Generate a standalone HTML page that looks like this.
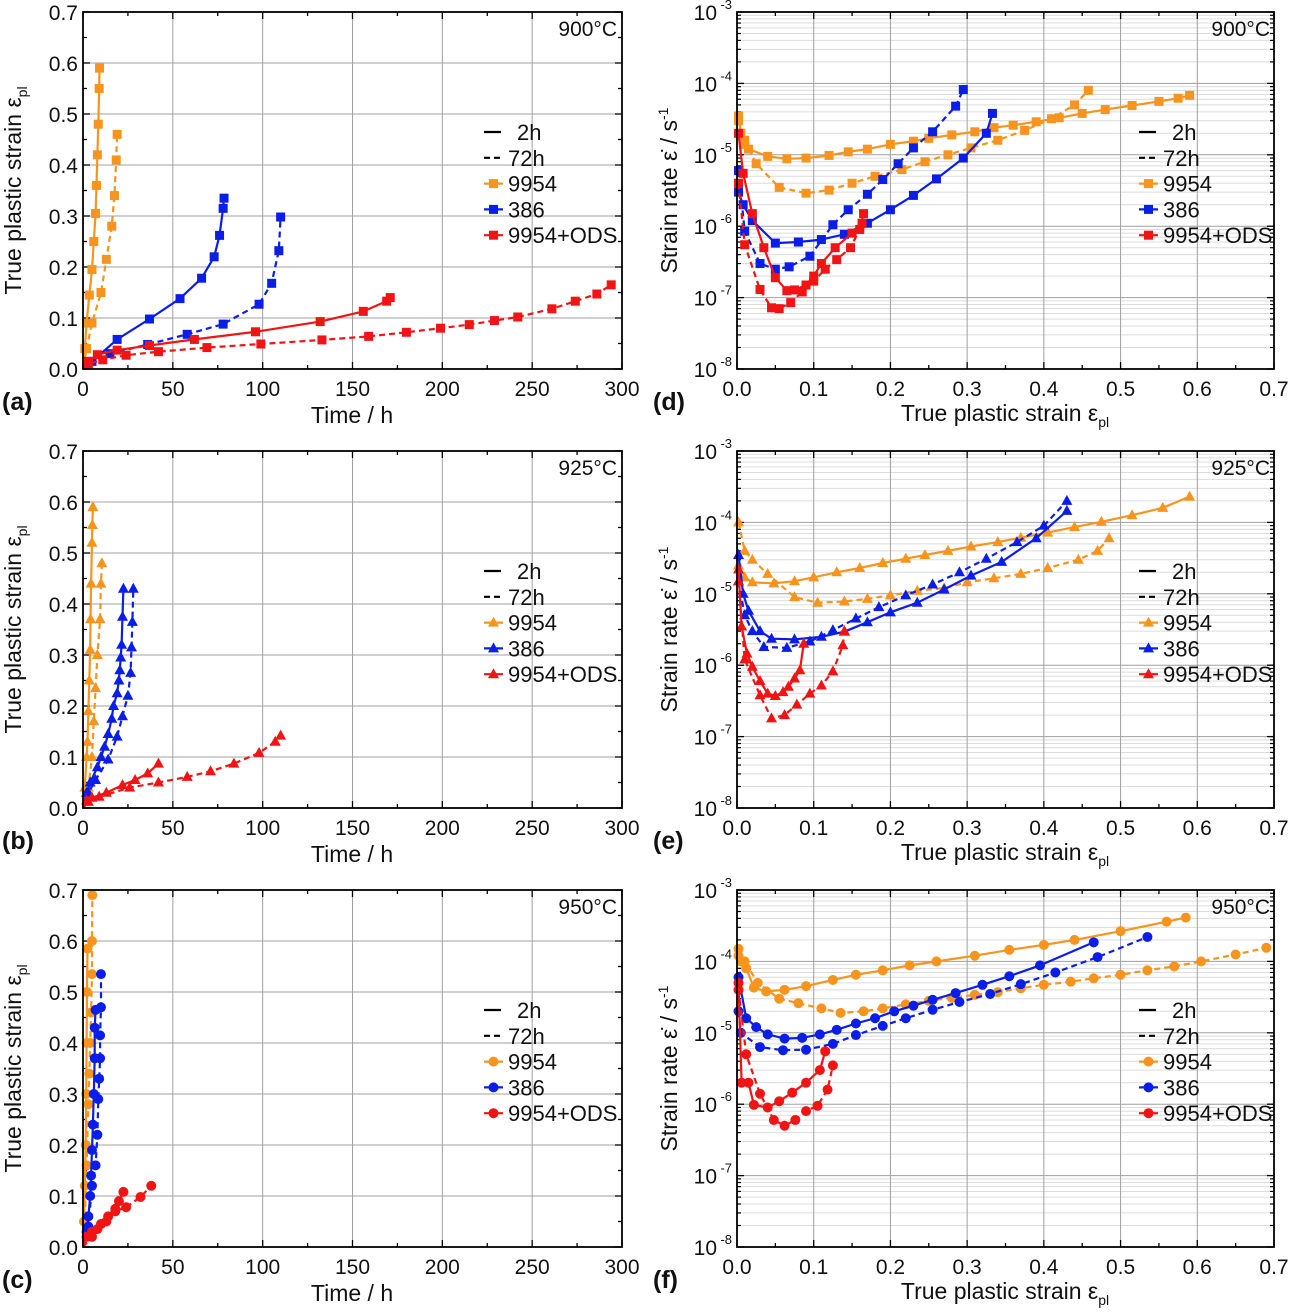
<!DOCTYPE html>
<html><head><meta charset="utf-8"><style>
html,body{margin:0;padding:0;background:#fff;}
svg text{font-family:"Liberation Sans",Arial,sans-serif;fill:#111;}
</style></head><body>
<svg id="fig" xmlns="http://www.w3.org/2000/svg" width="1289" height="1310" viewBox="0 0 1289 1310"></svg>
<script>
// ---- data: left panels (time h, true plastic strain) ----
const a_9954_2h_t=[0,1,2,3.5,5,6,7,7.5,8,8.5,9,9.2];
const a_9954_2h_e=[0,0.04,0.09,0.145,0.195,0.25,0.305,0.36,0.42,0.48,0.55,0.59];
const a_9954_72h_t=[0,2,5,10,13,16,17.5,18.5,19];
const a_9954_72h_e=[0,0.04,0.09,0.15,0.215,0.28,0.34,0.41,0.46];
const a_386_2h_t=[0,5,19,37,54,66,73,76,78,78.5];
const a_386_2h_e=[0,0.015,0.058,0.098,0.138,0.178,0.22,0.262,0.315,0.335];
const a_386_72h_t=[0,15,36,58,78,98,105,109,110];
const a_386_72h_e=[0,0.03,0.048,0.068,0.088,0.127,0.168,0.232,0.298];
const a_ods_2h_t=[0,3,8,19,37,62,96,132,156,169,171];
const a_ods_2h_e=[0,0.015,0.028,0.037,0.046,0.058,0.073,0.093,0.113,0.133,0.14];
const a_ods_72h_t=[0,3,11,24,42,69,99,133,159,180,199,215,229,242,261,274,286,294];
const a_ods_72h_e=[0,0.01,0.018,0.027,0.034,0.042,0.049,0.057,0.064,0.072,0.08,0.087,0.095,0.102,0.118,0.133,0.147,0.165];

const b_9954_2h_t=[0,1,2,2.5,3,3.5,4,4.2,4.5,5,5.2,5.5];
const b_9954_2h_e=[0,0.04,0.1,0.13,0.19,0.25,0.31,0.37,0.44,0.52,0.555,0.59];
const b_9954_72h_t=[0,3,5,6,7,8,9.5,10,10.5];
const b_9954_72h_e=[0,0.04,0.1,0.17,0.235,0.3,0.37,0.44,0.48];
const b_386_2h_t=[0,2,4,8,10,12,14,16,17,19,20,20.5,21,21.5,22,22.5];
const b_386_2h_e=[0,0.03,0.05,0.08,0.1,0.12,0.145,0.175,0.2,0.225,0.25,0.27,0.295,0.32,0.375,0.43];
const b_386_72h_t=[0,3,7,14,19,22,25,26.5,27,27.5,28];
const b_386_72h_e=[0,0.03,0.055,0.095,0.14,0.18,0.22,0.265,0.315,0.365,0.43];
const b_ods_2h_t=[0,2,5,13,22,29,36,42];
const b_ods_2h_e=[0,0.015,0.02,0.03,0.045,0.055,0.068,0.087];
const b_ods_72h_t=[0,3,9,26,42,58,71,84,98,107,110];
const b_ods_72h_e=[0,0.012,0.022,0.04,0.05,0.061,0.072,0.087,0.108,0.13,0.142];

const c_9954_2h_t=[0,0.5,1,1.5,1.8,2,2.2,2.5];
const c_9954_2h_e=[0,0.05,0.12,0.2,0.3,0.4,0.5,0.585];
const c_9954_72h_t=[0,1,2,3,3.5,4,4.5,5,5,5.2];
const c_9954_72h_e=[0,0.05,0.16,0.28,0.34,0.4,0.46,0.535,0.6,0.69];
const c_386_2h_t=[0,2,3,4,4.5,5,5.5,6,6.5,6.5,7];
const c_386_2h_e=[0,0.03,0.06,0.1,0.14,0.19,0.24,0.3,0.37,0.43,0.465];
const c_386_72h_t=[0,3,5,7,8,8.5,9,9.5,9.5,10,10];
const c_386_72h_e=[0,0.04,0.12,0.16,0.22,0.29,0.33,0.37,0.415,0.47,0.535];
const c_ods_2h_t=[0,2,5,10,14,18,20,22.5];
const c_ods_2h_e=[0,0.02,0.03,0.045,0.06,0.075,0.09,0.108];
const c_ods_72h_t=[0,5,8,13,18,24,32,38];
const c_ods_72h_e=[0,0.02,0.035,0.05,0.07,0.078,0.098,0.12];

// ---- data: right panels (strain, strain rate 1/s) ----
const d_9954_2h_x=[0.002,0.005,0.01,0.015,0.04,0.065,0.09,0.12,0.145,0.17,0.2,0.23,0.25,0.28,0.31,0.335,0.36,0.39,0.42,0.45,0.48,0.515,0.55,0.575,0.59];
const d_9954_2h_r=[3.5e-5,2e-5,1.4e-5,1.2e-5,9.5e-6,8.8e-6,9e-6,9.8e-6,1.1e-5,1.2e-5,1.4e-5,1.55e-5,1.7e-5,1.9e-5,2.1e-5,2.4e-5,2.6e-5,2.9e-5,3.3e-5,3.8e-5,4.3e-5,4.9e-5,5.6e-5,6.2e-5,6.8e-5];
const d_9954_72h_x=[0.002,0.01,0.025,0.055,0.09,0.12,0.15,0.18,0.215,0.245,0.275,0.305,0.34,0.375,0.41,0.44,0.458];
const d_9954_72h_r=[3e-5,1.6e-5,7.5e-6,3.5e-6,2.9e-6,3.2e-6,4e-6,5e-6,6.2e-6,8e-6,1e-5,1.25e-5,1.6e-5,2.2e-5,3.2e-5,5e-5,8e-5];
const d_386_2h_x=[0.002,0.008,0.02,0.05,0.08,0.11,0.14,0.17,0.2,0.23,0.26,0.295,0.325,0.333];
const d_386_2h_r=[3e-6,2e-6,1.2e-6,5.8e-7,6e-7,6.5e-7,7.7e-7,1.1e-6,1.7e-6,2.7e-6,4.6e-6,9e-6,2e-5,3.8e-5];
const d_386_72h_x=[0.002,0.01,0.03,0.05,0.068,0.095,0.125,0.145,0.17,0.19,0.21,0.23,0.255,0.285,0.295];
const d_386_72h_r=[6e-6,8.5e-7,3e-7,2.5e-7,2.7e-7,3.8e-7,1.05e-6,1.7e-6,2.8e-6,4.5e-6,7.5e-6,1.25e-5,2.1e-5,4.8e-5,8.2e-5];
const d_ods_2h_x=[0.002,0.008,0.02,0.035,0.05,0.065,0.075,0.09,0.1,0.11,0.128,0.15,0.163];
const d_ods_2h_r=[2e-5,5.5e-6,1.5e-6,5e-7,1.9e-7,1.25e-7,1.28e-7,1.5e-7,2e-7,3e-7,5e-7,8e-7,1.1e-6];
const d_ods_72h_x=[0.002,0.01,0.03,0.045,0.055,0.07,0.085,0.1,0.115,0.13,0.148,0.16,0.165];
const d_ods_72h_r=[4e-6,5.5e-7,1.3e-7,7.2e-8,7e-8,8.5e-8,1.2e-7,1.7e-7,2.5e-7,3.4e-7,5e-7,9e-7,1.5e-6];

const e_9954_2h_x=[0.002,0.01,0.02,0.048,0.075,0.1,0.13,0.16,0.19,0.22,0.245,0.275,0.305,0.34,0.37,0.405,0.44,0.475,0.515,0.555,0.59];
const e_9954_2h_r=[2.5e-5,1.7e-5,1.45e-5,1.4e-5,1.5e-5,1.7e-5,2e-5,2.3e-5,2.7e-5,3.1e-5,3.5e-5,4e-5,4.6e-5,5.3e-5,6.1e-5,7.2e-5,8.6e-5,1.02e-4,1.26e-4,1.6e-4,2.3e-4];
const e_9954_72h_x=[0.002,0.01,0.02,0.04,0.075,0.105,0.14,0.17,0.2,0.235,0.27,0.3,0.335,0.37,0.405,0.445,0.47,0.485];
const e_9954_72h_r=[1e-4,4e-5,3e-5,1.9e-5,9e-6,7.5e-6,7.8e-6,8.5e-6,9.5e-6,1.1e-5,1.2e-5,1.45e-5,1.65e-5,1.9e-5,2.3e-5,3e-5,4e-5,6e-5];
const e_386_2h_x=[0.002,0.008,0.015,0.03,0.045,0.075,0.11,0.14,0.17,0.2,0.235,0.27,0.305,0.345,0.39,0.43];
const e_386_2h_r=[3.5e-5,1e-5,5.8e-6,3e-6,2.35e-6,2.3e-6,2.5e-6,2.95e-6,4e-6,5.5e-6,7.5e-6,1.15e-5,1.8e-5,2.8e-5,6e-5,1.45e-4];
const e_386_72h_x=[0.002,0.01,0.02,0.035,0.065,0.095,0.125,0.155,0.185,0.22,0.255,0.29,0.325,0.365,0.4,0.43];
const e_386_72h_r=[1.5e-5,5e-6,3e-6,1.8e-6,1.75e-6,2.15e-6,3.1e-6,4.5e-6,6.5e-6,9.5e-6,1.35e-5,2e-5,3.1e-5,5.3e-5,9e-5,2e-4];
const e_ods_2h_x=[0.002,0.006,0.013,0.02,0.03,0.04,0.05,0.06,0.067,0.075,0.082,0.087];
const e_ods_2h_r=[2.2e-5,3.5e-6,1.45e-6,9.5e-7,6e-7,4e-7,3.7e-7,4.2e-7,5e-7,6.5e-7,8.5e-7,2e-6];
const e_ods_72h_x=[0.002,0.01,0.03,0.045,0.062,0.078,0.095,0.11,0.125,0.138,0.14];
const e_ods_72h_r=[1.5e-5,1.2e-6,3.8e-7,1.8e-7,2e-7,2.8e-7,4e-7,5.2e-7,8.2e-7,1.9e-6,3e-6];

const f_9954_2h_x=[0.002,0.005,0.012,0.022,0.038,0.062,0.09,0.125,0.155,0.19,0.225,0.26,0.31,0.355,0.4,0.44,0.5,0.56,0.585];
const f_9954_2h_r=[1.5e-4,1e-4,8e-5,4.3e-5,3.8e-5,4e-5,4.5e-5,5.5e-5,6.5e-5,7.5e-5,8.8e-5,1e-4,1.2e-4,1.45e-4,1.7e-4,2e-4,2.65e-4,3.6e-4,4.1e-4];
const f_9954_72h_x=[0.002,0.01,0.027,0.055,0.08,0.11,0.135,0.165,0.19,0.22,0.25,0.28,0.31,0.34,0.37,0.4,0.435,0.465,0.5,0.535,0.57,0.605,0.65,0.69];
const f_9954_72h_r=[1.2e-4,1e-4,5e-5,3e-5,2.6e-5,2.2e-5,1.9e-5,2e-5,2.2e-5,2.5e-5,2.8e-5,3.1e-5,3.4e-5,3.7e-5,4.2e-5,4.7e-5,5.2e-5,5.8e-5,6.5e-5,7.5e-5,8.5e-5,1e-4,1.25e-4,1.55e-4];
const f_386_2h_x=[0.002,0.012,0.025,0.04,0.062,0.085,0.108,0.13,0.155,0.18,0.205,0.23,0.255,0.285,0.32,0.355,0.395,0.465];
const f_386_2h_r=[6e-5,1.6e-5,1.2e-5,9.5e-6,8.3e-6,8.5e-6,9.5e-6,1.1e-5,1.35e-5,1.6e-5,2e-5,2.4e-5,2.9e-5,3.6e-5,4.7e-5,6.2e-5,8.8e-5,1.85e-4];
const f_386_72h_x=[0.002,0.005,0.03,0.06,0.09,0.125,0.155,0.19,0.22,0.255,0.29,0.33,0.37,0.415,0.47,0.535];
const f_386_72h_r=[2e-5,1e-5,6.3e-6,5.7e-6,5.8e-6,7e-6,9.3e-6,1.25e-5,1.6e-5,2.1e-5,2.7e-5,3.5e-5,4.8e-5,7e-5,1.15e-4,2.2e-4];
const f_ods_2h_x=[0.002,0.006,0.015,0.022,0.04,0.055,0.072,0.09,0.108,0.115];
const f_ods_2h_r=[5e-5,2e-6,2e-6,9.8e-7,9e-7,1.1e-6,1.45e-6,2e-6,3e-6,5.5e-6];
const f_ods_72h_x=[0.002,0.012,0.03,0.048,0.062,0.076,0.09,0.105,0.118,0.125];
const f_ods_72h_r=[4e-5,5e-6,1.4e-6,6e-7,5e-7,6e-7,8e-7,9.5e-7,1.6e-6,3.5e-6];

const leftTicks=["0.0","0.1","0.2","0.3","0.4","0.5","0.6","0.7"];
const timeTicks=["0","50","100","150","200","250","300"];
const strainTicks=["0.0","0.1","0.2","0.3","0.4","0.5","0.6","0.7"];
const logExps=[-3,-4,-5,-6,-7,-8];
const temps=["900°C","925°C","950°C"];

const NS="http://www.w3.org/2000/svg";
const svg=document.getElementById('fig');
const COL={o:'#f7941d',b:'#0a1ee8',r:'#f01414'};
function mk(tag,attrs,parent){const e=document.createElementNS(NS,tag);for(const k in attrs)e.setAttribute(k,attrs[k]);(parent||svg).appendChild(e);return e;}
function marker(g,shape,x,y,c){
  let m;
  if(shape==='s'){m=mk('rect',{x:x-4.5,y:y-4.5,width:9,height:9,fill:c},g);}
  else if(shape==='t'){m=mk('polygon',{points:`${x},${y-6} ${x+5.5},${y+4} ${x-5.5},${y+4}`,fill:c},g);}
  else{m=mk('circle',{cx:x,cy:y,r:5,fill:c},g);}
  
  
}
function series(g,xs,ys,fx,fy,c,dash,shape,name){
  const sg=mk('g',{},g);
  
  
  const pts=xs.map((v,i)=>fx(v).toFixed(1)+','+fy(ys[i]).toFixed(1)).join(' ');
  const attrs={points:pts,fill:'none',stroke:c,'stroke-width':2.2,'stroke-linejoin':'round'};
  if(dash)attrs['stroke-dasharray']='6,4';
  mk('polyline',attrs,sg);
  xs.forEach((v,i)=>{if(i>0||ys[i]>0)marker(sg,shape,fx(v),fy(ys[i]),c);});
}
function legend(g,lx,ty,shape){
  const rows=[['2h',null,false],['72h',null,true],['9954',COL.o],['386',COL.b],['9954+ODS',COL.r]];
  rows.forEach((r,i)=>{
    const y=ty+i*25.8;
    const eg=mk('g',{},g);
    
    
    if(i<2){
      const at={x1:lx,x2:lx+17,y1:y,y2:y,stroke:'#000','stroke-width':2.2};
      if(r[2])at['stroke-dasharray']='6,4';
      mk('line',at,eg);
      mk('text',{x:lx+(i===0?33:24),y:y+8,'font-size':22},eg).textContent=r[0];
    }else{
      mk('line',{x1:lx,x2:lx+19,y1:y,y2:y,stroke:r[1],'stroke-width':2.2},eg);
      marker(eg,shape,lx+9.5,y,r[1]);
      mk('text',{x:lx+24,y:y+8,'font-size':22},eg).textContent=r[0];
    }
  });
}
function leftPanel(idx,letter,shape,data){
  const off=idx*439, X0=83,X1=622,Y0=369+off,Y1=12+off;
  const fx=t=>X0+t/300*(X1-X0), fy=v=>Y0-v/0.7*(Y0-Y1);
  const g=mk('g',{});
  
  
  for(let i=1;i<6;i++)mk('line',{x1:fx(i*50),x2:fx(i*50),y1:Y1,y2:Y0,stroke:'#a0a0a0','stroke-width':1},g);
  for(let i=1;i<7;i++)mk('line',{x1:X0,x2:X1,y1:fy(i*0.1),y2:fy(i*0.1),stroke:'#a0a0a0','stroke-width':1},g);
  for(let i=0;i<=12;i++){const x=fx(i*25),L=i%2?4:7;mk('line',{x1:x,x2:x,y1:Y0,y2:Y0-L,stroke:'#000','stroke-width':1.3},g);mk('line',{x1:x,x2:x,y1:Y1,y2:Y1+L,stroke:'#000','stroke-width':1.3},g);}
  for(let i=0;i<=14;i++){const y=fy(i*0.05),L=i%2?4:7;mk('line',{x1:X0,x2:X0+L,y1:y,y2:y,stroke:'#000','stroke-width':1.3},g);mk('line',{x1:X1,x2:X1-L,y1:y,y2:y,stroke:'#000','stroke-width':1.3},g);}
  leftTicks.forEach((s,i)=>{const t=mk('text',{x:X0-5,y:fy(i*0.1)+8,'font-size':21,'text-anchor':'end'},g);t.textContent=s;});
  timeTicks.forEach((s,i)=>{const t=mk('text',{x:fx(i*50),y:Y0+27,'font-size':21,'text-anchor':'middle'},g);t.textContent=s;});
  const xt=mk('text',{x:352,y:Y0+54,'font-size':23,'text-anchor':'middle'},g);xt.textContent='Time / h';
  
  const yt=mk('text',{x:0,y:0,'font-size':23,'text-anchor':'middle',transform:`translate(21,${(Y0+Y1)/2}) rotate(-90)`},g);
  yt.innerHTML='True plastic strain ε<tspan font-size="14" dy="6">pl</tspan>';
  
  const pl=mk('text',{x:2,y:Y0+41,'font-size':25,'font-weight':'bold'},g);pl.textContent='('+letter+')';
  
  const tp=mk('text',{x:617,y:Y1+24,'font-size':21,'text-anchor':'end'},g);tp.textContent=temps[idx];
  
  data.forEach(d=>series(g,d[0],d[1],fx,fy,d[2],d[3],shape,d[4]));
  mk('rect',{x:X0,y:Y1,width:X1-X0,height:Y0-Y1,fill:'none',stroke:'#000','stroke-width':1.8},g);
  legend(g,484,Y1+120,shape);
}
function rightPanel(idx,letter,shape,data){
  const off=idx*439, X0=737,X1=1274,Y0=369+off,Y1=12+off;
  const fx=v=>X0+v/0.7*(X1-X0), fy=r=>Y0-(Math.log10(r)+8)/5*(Y0-Y1);
  const g=mk('g',{});
  
  
  for(let e=-8;e<-3;e++)for(let m=2;m<10;m++){const y=fy(m*Math.pow(10,e));mk('line',{x1:X0,x2:X1,y1:y,y2:y,stroke:'#dcdcdc','stroke-width':1},g);mk('line',{x1:X0,x2:X0+4,y1:y,y2:y,stroke:'#000','stroke-width':1.2},g);mk('line',{x1:X1,x2:X1-4,y1:y,y2:y,stroke:'#000','stroke-width':1.2},g);}
  for(let i=1;i<7;i++)mk('line',{x1:fx(i*0.1),x2:fx(i*0.1),y1:Y1,y2:Y0,stroke:'#a0a0a0','stroke-width':1},g);
  for(let e=-7;e<-3;e++)mk('line',{x1:X0,x2:X1,y1:fy(Math.pow(10,e)),y2:fy(Math.pow(10,e)),stroke:'#a0a0a0','stroke-width':1},g);
  for(let i=0;i<=14;i++){const x=fx(i*0.05),L=i%2?4:7;mk('line',{x1:x,x2:x,y1:Y0,y2:Y0-L,stroke:'#000','stroke-width':1.3},g);mk('line',{x1:x,x2:x,y1:Y1,y2:Y1+L,stroke:'#000','stroke-width':1.3},g);}
  logExps.forEach(e=>{const y=fy(Math.pow(10,e));mk('line',{x1:X0,x2:X0+7,y1:y,y2:y,stroke:'#000','stroke-width':1.3},g);mk('line',{x1:X1,x2:X1-7,y1:y,y2:y,stroke:'#000','stroke-width':1.3},g);
    const t=mk('text',{x:X0-20,y:y+8,'font-size':21,'text-anchor':'end'},g);t.innerHTML='10';
    const s=mk('text',{x:X0-5,y:y-3,'font-size':13,'text-anchor':'end'},g);s.textContent=String(e);
    
    });
  strainTicks.forEach((s,i)=>{const t=mk('text',{x:fx(i*0.1),y:Y0+27,'font-size':21,'text-anchor':'middle'},g);t.textContent=s;});
  const xt=mk('text',{x:1005,y:Y0+52,'font-size':23,'text-anchor':'middle'},g);
  xt.innerHTML='True plastic strain ε<tspan font-size="14" dy="6">pl</tspan>';
  
  const yt=mk('text',{x:0,y:0,'font-size':23,'text-anchor':'middle',transform:`translate(677,${(Y0+Y1)/2}) rotate(-90)`},g);
  yt.innerHTML='Strain rate ε̇ / s<tspan font-size="14" dy="-9">-1</tspan>';
  
  const pl=mk('text',{x:653,y:Y0+41,'font-size':25,'font-weight':'bold'},g);pl.textContent='('+letter+')';
  
  const tp=mk('text',{x:1270,y:Y1+24,'font-size':21,'text-anchor':'end'},g);tp.textContent=temps[idx];
  
  data.forEach(d=>series(g,d[0],d[1],fx,fy,d[2],d[3],shape,d[4]));
  mk('rect',{x:X0,y:Y1,width:X1-X0,height:Y0-Y1,fill:'none',stroke:'#000','stroke-width':1.8},g);
  legend(g,1139,Y1+120,shape);
}
leftPanel(0,'a','s',[[a_9954_2h_t,a_9954_2h_e,COL.o,false,'series-9954-2h'],[a_9954_72h_t,a_9954_72h_e,COL.o,true,'series-9954-72h'],[a_386_2h_t,a_386_2h_e,COL.b,false,'series-386-2h'],[a_386_72h_t,a_386_72h_e,COL.b,true,'series-386-72h'],[a_ods_2h_t,a_ods_2h_e,COL.r,false,'series-ods-2h'],[a_ods_72h_t,a_ods_72h_e,COL.r,true,'series-ods-72h']]);
leftPanel(1,'b','t',[[b_9954_2h_t,b_9954_2h_e,COL.o,false,'series-9954-2h'],[b_9954_72h_t,b_9954_72h_e,COL.o,true,'series-9954-72h'],[b_386_2h_t,b_386_2h_e,COL.b,false,'series-386-2h'],[b_386_72h_t,b_386_72h_e,COL.b,true,'series-386-72h'],[b_ods_2h_t,b_ods_2h_e,COL.r,false,'series-ods-2h'],[b_ods_72h_t,b_ods_72h_e,COL.r,true,'series-ods-72h']]);
leftPanel(2,'c','c',[[c_9954_2h_t,c_9954_2h_e,COL.o,false,'series-9954-2h'],[c_9954_72h_t,c_9954_72h_e,COL.o,true,'series-9954-72h'],[c_386_2h_t,c_386_2h_e,COL.b,false,'series-386-2h'],[c_386_72h_t,c_386_72h_e,COL.b,true,'series-386-72h'],[c_ods_2h_t,c_ods_2h_e,COL.r,false,'series-ods-2h'],[c_ods_72h_t,c_ods_72h_e,COL.r,true,'series-ods-72h']]);
rightPanel(0,'d','s',[[d_9954_2h_x,d_9954_2h_r,COL.o,false,'series-9954-2h'],[d_9954_72h_x,d_9954_72h_r,COL.o,true,'series-9954-72h'],[d_386_2h_x,d_386_2h_r,COL.b,false,'series-386-2h'],[d_386_72h_x,d_386_72h_r,COL.b,true,'series-386-72h'],[d_ods_2h_x,d_ods_2h_r,COL.r,false,'series-ods-2h'],[d_ods_72h_x,d_ods_72h_r,COL.r,true,'series-ods-72h']]);
rightPanel(1,'e','t',[[e_9954_2h_x,e_9954_2h_r,COL.o,false,'series-9954-2h'],[e_9954_72h_x,e_9954_72h_r,COL.o,true,'series-9954-72h'],[e_386_2h_x,e_386_2h_r,COL.b,false,'series-386-2h'],[e_386_72h_x,e_386_72h_r,COL.b,true,'series-386-72h'],[e_ods_2h_x,e_ods_2h_r,COL.r,false,'series-ods-2h'],[e_ods_72h_x,e_ods_72h_r,COL.r,true,'series-ods-72h']]);
rightPanel(2,'f','c',[[f_9954_2h_x,f_9954_2h_r,COL.o,false,'series-9954-2h'],[f_9954_72h_x,f_9954_72h_r,COL.o,true,'series-9954-72h'],[f_386_2h_x,f_386_2h_r,COL.b,false,'series-386-2h'],[f_386_72h_x,f_386_72h_r,COL.b,true,'series-386-72h'],[f_ods_2h_x,f_ods_2h_r,COL.r,false,'series-ods-2h'],[f_ods_72h_x,f_ods_72h_r,COL.r,true,'series-ods-72h']]);
</script>
</body></html>
